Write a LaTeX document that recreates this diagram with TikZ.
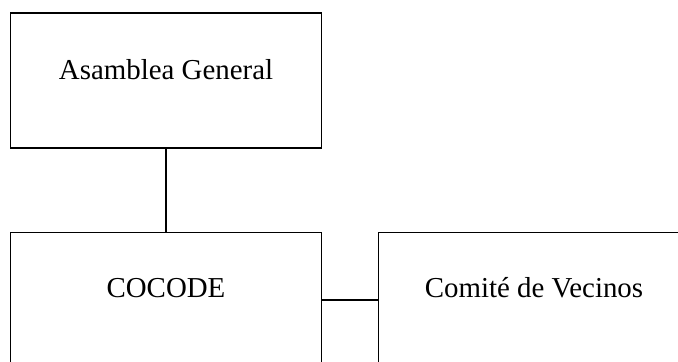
\documentclass[tikz,border=0pt]{standalone}
\usepackage{fontspec}
\setmainfont{Liberation Serif}
\usepackage{tikz}
\usetikzlibrary{calc}

\begin{document}
\begin{tikzpicture}[orgbox/.style={draw=black, line width=0.7pt, inner sep=0pt, minimum width=5.483cm, anchor=base, font=\fontsize{14.5}{17}\selectfont}]
\useasboundingbox (0cm,0cm) rectangle (11.959cm,-6.385cm);
\node[orgbox, text height=1.182cm, text depth=1.202cm] (asamblea) at (2.928cm,-1.411cm) {Asamblea General};
\node[orgbox, text height=1.143cm, text depth=1.248cm] (cocode) at (2.928cm,-5.239cm) {COCODE};
\node[orgbox, text height=1.143cm, text depth=1.248cm] (comite) at (9.419cm,-5.239cm) {Comit\'e de Vecinos};
\draw[black, line width=0.7pt] (asamblea.south) -- (cocode.north);
\draw[black, line width=0.7pt] (cocode.east) -- (comite.west);
\end{tikzpicture}
\end{document}
